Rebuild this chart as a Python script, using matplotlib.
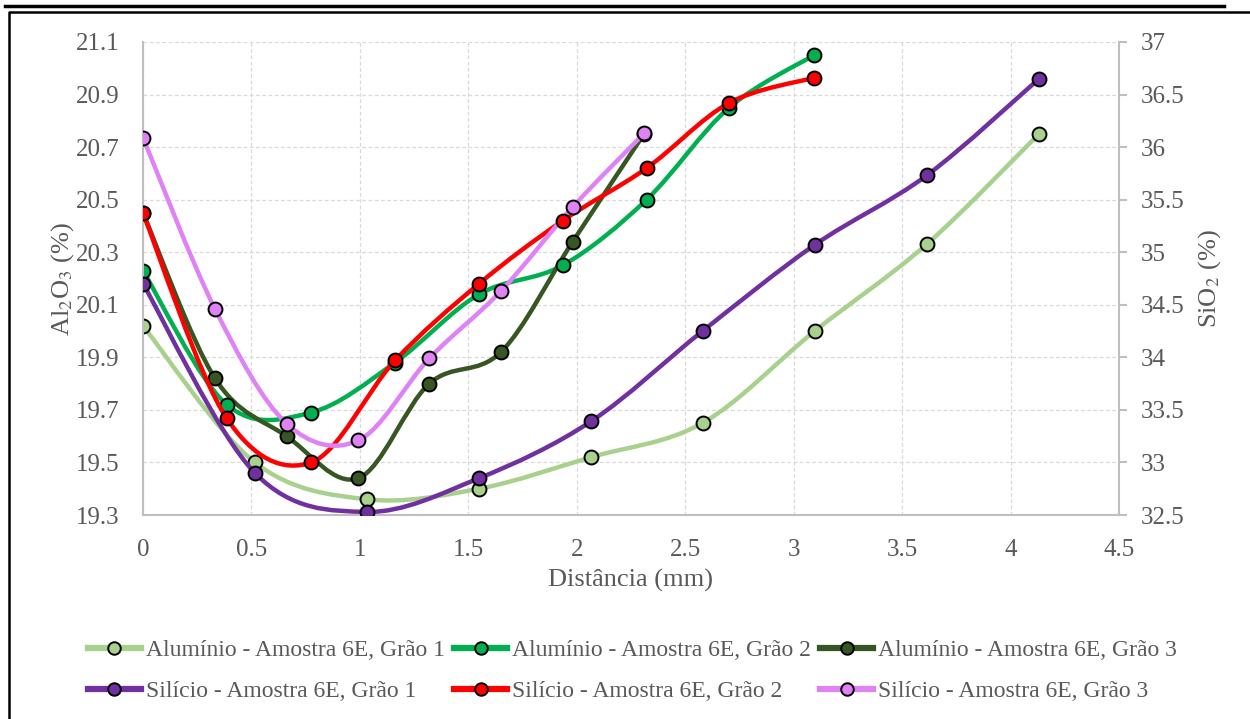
import numpy as np
import matplotlib.pyplot as plt
from matplotlib.path import Path
from matplotlib.patches import PathPatch
from matplotlib.lines import Line2D

plt.rcParams['font.family'] = ['Liberation Serif', 'DejaVu Serif']
plt.rcParams['mathtext.fontset'] = 'stix'

# distance along the profile (mm) for each grain
dist_g1 = [0, 0.516, 1.031, 1.549, 2.065, 2.580, 3.097, 3.613, 4.131]
dist_g2 = [0, 0.386, 0.775, 1.162, 1.549, 1.935, 2.322, 2.702, 3.094]
dist_g3 = [0, 0.332, 0.662, 0.993, 1.320, 1.650, 1.981, 2.310]

# Al2O3 (%) - left axis
al_g1 = [20.02, 19.50, 19.36, 19.40, 19.52, 19.65, 20.00, 20.33, 20.75]
al_g2 = [20.23, 19.72, 19.69, 19.88, 20.14, 20.25, 20.50, 20.85, 21.05]
al_g3 = [20.45, 19.82, 19.60, 19.44, 19.80, 19.92, 20.34, 20.75]

# SiO2 (%) - right axis
si_g1 = [34.70, 32.90, 32.53, 32.85, 33.39, 34.25, 35.07, 35.73, 36.65]
si_g2 = [35.37, 33.42, 33.00, 33.97, 34.70, 35.30, 35.80, 36.42, 36.66]
si_g3 = [36.09, 34.46, 33.37, 33.21, 33.99, 34.63, 35.43, 36.13]

labels_al = ['Alumínio - Amostra 6E, Grão 1', 'Alumínio - Amostra 6E, Grão 2',
             'Alumínio - Amostra 6E, Grão 3']
labels_si = ['Silício - Amostra 6E, Grão 1', 'Silício - Amostra 6E, Grão 2',
             'Silício - Amostra 6E, Grão 3']
colors_al = ['#A9D18E', '#00B050', '#375623']
colors_si = ['#7030A0', '#FF0000', '#DF82F5']

left_ticks = [19.3, 19.5, 19.7, 19.9, 20.1, 20.3, 20.5, 20.7, 20.9, 21.1]
right_ticks = [32.5, 33, 33.5, 34, 34.5, 35, 35.5, 36, 36.5, 37]
x_ticks = [0, 0.5, 1, 1.5, 2, 2.5, 3, 3.5, 4, 4.5]


def smooth_path(x, y):
    # Excel-like smoothed line: cubic bezier through the points
    p = np.column_stack([x, y]).astype(float)
    pp = np.vstack([p[0], p, p[-1]])
    verts = [p[0]]
    codes = [Path.MOVETO]
    for i in range(len(p) - 1):
        c1 = p[i] + (pp[i + 2] - pp[i]) / 6
        c2 = p[i + 1] - (pp[i + 3] - pp[i + 1]) / 6
        verts += [c1, c2, p[i + 1]]
        codes += [Path.CURVE4] * 3
    return Path(verts, codes)


def draw_series(ax, x, y, color):
    ax.add_patch(PathPatch(smooth_path(x, y), facecolor='none', edgecolor=color,
                           lw=3.2, capstyle='round', joinstyle='round'))
    ax.plot(x, y, 'o', ls='none', ms=10, mfc=color, mec='black', mew=1.4)


grey = '#595959'
fig = plt.figure(figsize=(12.5, 7.19), dpi=100)
ax = fig.add_axes([0.1144, 0.2837, 0.7808, 0.6579])
ax2 = ax.twinx()

for x, y, c in zip([dist_g1, dist_g2, dist_g3], [al_g1, al_g2, al_g3], colors_al):
    draw_series(ax, x, y, c)
for x, y, c in zip([dist_g1, dist_g2, dist_g3], [si_g1, si_g2, si_g3], colors_si):
    draw_series(ax2, x, y, c)

ax.set_xlim(0, 4.5)
ax.set_ylim(19.3, 21.1)
ax2.set_ylim(32.5, 37)
ax.set_xticks(x_ticks)
ax.set_xticklabels([f'{v:g}' for v in x_ticks])
ax.set_yticks(left_ticks)
ax.set_yticklabels([f'{v:.1f}' for v in left_ticks])
ax2.set_yticks(right_ticks)
ax2.set_yticklabels([f'{v:g}' for v in right_ticks])

ax.grid(True, color='#D9D9D9', ls=(0, (3, 2)), lw=0.9)
ax.set_axisbelow(True)
for a in (ax, ax2):
    for s in a.spines.values():
        s.set_visible(False)
ax.spines['left'].set_visible(True)
ax.spines['bottom'].set_visible(True)
ax2.spines['right'].set_visible(True)
for s in (ax.spines['left'], ax.spines['bottom'], ax2.spines['right']):
    s.set_color('#BFBFBF')
    s.set_linewidth(1.5)

ax.tick_params(axis='x', length=0, labelsize=18, labelcolor=grey, pad=17)
ax.tick_params(axis='y', length=0, labelsize=18, labelcolor=grey, pad=17)
ax2.tick_params(axis='y', length=6, width=1.5, color='#BFBFBF', labelsize=18,
                labelcolor=grey, pad=10)

ax.set_xlabel('Distância (mm)', fontsize=19, color=grey, labelpad=6)
ax.set_ylabel('Al$_2$O$_3$ (%)', fontsize=19, color=grey, labelpad=0)
ax2.set_ylabel('SiO$_2$ (%)', fontsize=19, color=grey, labelpad=8)

# legend rows: aluminium on top, silicon below
handles = []
labels = []
for i in range(3):
    for lab, c in ((labels_al[i], colors_al[i]), (labels_si[i], colors_si[i])):
        handles.append(Line2D([], [], color=c, lw=4.5, marker='o', ms=9,
                              mfc=c, mec='black', mew=1.4))
        labels.append(lab)
leg = fig.legend(handles, labels, ncol=3, loc='center', bbox_to_anchor=(0.506, 0.067),
                 frameon=False, fontsize=17, handlelength=2.25, handletextpad=0.2,
                 columnspacing=0.4, labelspacing=0.85, labelcolor=grey)

# frame lines around the figure
fig.add_artist(Line2D([0.004, 0.979], [0.991, 0.991], color='black', lw=2.5,
                      transform=fig.transFigure))
fig.add_artist(Line2D([0.0072, 0.0072, 1.0], [0.0, 0.983, 0.983], color='black', lw=1.8,
                      transform=fig.transFigure))

fig.savefig('out.png', dpi=100)
